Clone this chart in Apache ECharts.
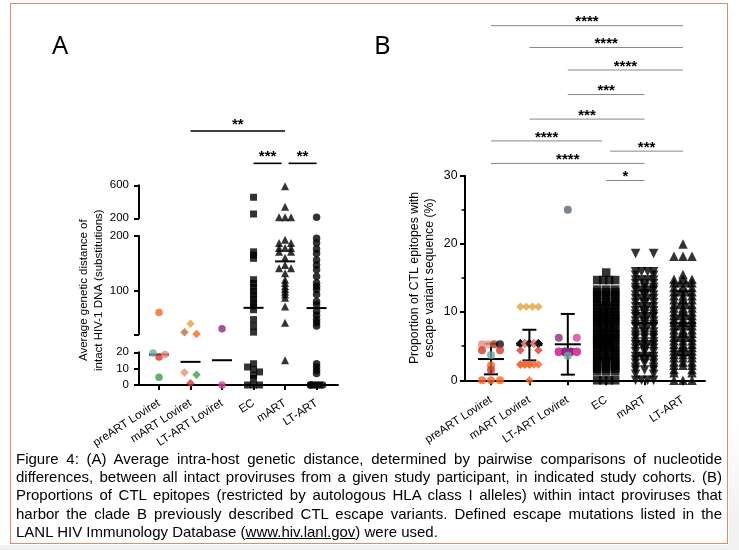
<!DOCTYPE html>
<html>
<head>
<meta charset="utf-8">
<title>Figure 4</title>
<script src="https://cdn.jsdelivr.net/npm/echarts@6.0.0/dist/echarts.min.js"></script>
<style>
  html, body { margin: 0; padding: 0; width: 739px; height: 550px; background: #fff; overflow: hidden; }
  .shade { position: absolute; background: #f2f2f2; }
  #frame { position: absolute; left: 10px; top: 3px; width: 716px; height: 539px; border: 1.5px solid #e3896a; background: #fff; }
  #chart { position: absolute; left: 0; top: 0; width: 739px; height: 550px; }
  #caption { position: absolute; left: 16px; top: 450px; width: 706px; font: 15px 'Liberation Sans', Arial, sans-serif; line-height: 18.2px; color: #000; }
  #caption div { text-align: justify; text-align-last: justify; }
  #caption div.last { text-align-last: left; }
</style>
</head>
<body>
<div class="shade" style="left:729px;top:420px;width:10px;height:130px;background:linear-gradient(#fff,#f2f2f2 75%)"></div>
<div class="shade" style="left:0;top:545px;width:739px;height:5px"></div>
<div id="frame"></div>
<div id="chart"></div>
<div id="caption">
  <div>Figure 4: (A) Average intra-host genetic distance, determined by pairwise comparisons of nucleotide</div>
  <div>differences, between all intact proviruses from a given study participant, in indicated study cohorts. (B)</div>
  <div>Proportions of CTL epitopes (restricted by autologous HLA class I alleles) within intact proviruses that</div>
  <div>harbor the clade B previously described CTL escape variants. Defined escape mutations listed in the</div>
  <div class="last">LANL HIV Immunology Database (<u>www.hiv.lanl.gov</u>) were used.</div>
</div>
<script>
// categories (same for both panels)
var cats = ['preART Loviret', 'mART Loviret', 'LT-ART Loviret', 'EC', 'mART', 'LT-ART'];

// panel A : average genetic distance (substitutions), one value per participant
var distPreLov = [60, 19.5, 17.2, 18.6, 4.7];
var distMartLov = [39.4, 23.6, 20.6, 7.7, 6.3, 1];
var distLtLov = [30.3, 0];
var distEC = [455, 252, 171, 165, 159, 120, 113, 106, 99, 92, 85, 78, 72,
              65, 47, 35, 24, 13, 11, 9.5, 8, 6, 4, 0, 0, 0];
var distMart = [588, 340, 212, 212, 212, 193, 187, 187, 178, 178, 178, 171, 171, 160,
                147, 141, 141, 132, 120, 114, 108, 103, 98, 93, 87, 71, 41, 15.2];
var distLtArt = [212, 196, 187, 176, 168, 156, 147, 138, 126, 114, 108, 102, 93, 80, 74,
                 62, 55, 47, 41, 35, 13, 11, 9, 7, 0, 0, 0, 0, 0, 0];

// panel B : % of CTL epitopes with escape variant sequence
var escPreLov = [5.3, 5.3, 5.3, 5.3, 4.4, 4.4, 3.7, 2.2, 1.5, 0, 0, 0];
var escMartLov = [10.8, 10.8, 10.8, 10.8,
  5.4, 5.4, 5.4, 5.4, 5.4, 5.4, 5.4, 5.4, 5.4, 5.4, 5.4, 5.4, 5.4, 5.4, 5.4,
  5.4, 5.4, 5.4, 5.4, 5.4, 5.4, 5.4, 5.4, 5.4, 5.4, 5.4, 5.4, 5.4, 5.4, 5.4,
  4.4, 4.4, 2.3, 2.3, 2.3, 2.3, 2.3, 2.3, 2.3, 2.3, 0];
var escLtLov = [25, 6.25, 6.25,
  4.17, 4.17, 4.17, 4.17, 4.17, 4.17, 4.17, 4.17, 4.17,
  4.17, 4.17, 4.17, 4.17, 4.17, 4.17, 4.17, 4.17, 4.17, 3.6];
var escEC = [15.8, 14.7, 14.7, 14.7, 14.7,
  13.3, 13.3, 13.3, 12.9, 12.9, 12.9, 12.5, 12.5, 12.5, 12.0, 12.0, 12.0,
  11.5, 11.5, 11.5, 11.1, 11.1, 11.1, 10.5, 10.5, 10.5, 10.5, 10.0, 10.0, 10.0, 10.0,
  9.5, 9.5, 9.5, 9.5, 9.1, 9.1, 9.1, 8.7, 8.7, 8.7, 8.7, 8.3, 8.3, 8.3, 8.3,
  7.7, 7.7, 7.7, 7.7, 7.1, 7.1, 7.1, 7.1, 6.7, 6.7, 6.7, 6.7, 6.3, 6.3, 6.3, 6.3,
  5.9, 5.9, 5.9, 5.9, 5.6, 5.6, 5.6, 5.3, 5.3, 5.3, 5.3, 4.8, 4.8, 4.8, 4.8,
  4.3, 4.3, 4.3, 4.3, 3.8, 3.8, 3.8, 3.3, 3.3, 3.3, 3.3, 2.9, 2.9, 2.9,
  2.5, 2.5, 2.5, 2.1, 2.1, 2.1, 1.7, 1.7, 1.7, 1.3, 1.3, 1.3, 0, 0, 0, 0];
var escMart = [18.6, 18.6,
  15.9, 15.9, 15.9, 15.9, 15.4, 15.4, 14.7, 14.7, 14.7, 14.7, 14.2, 14.2, 14.2,
  13.6, 13.6, 13.6, 13.2, 13.2, 13.2, 13.2, 12.5, 12.5, 12.5, 12.0, 12.0, 12.0, 12.0,
  11.4, 11.4, 11.4, 10.8, 10.8, 10.8, 10.8, 10.2, 10.2, 10.2, 9.7, 9.7, 9.7, 9.3, 9.3, 9.3, 9.3,
  8.7, 8.7, 8.7, 8.2, 8.2, 8.2, 7.8, 7.8, 7.8, 7.8, 7.1, 7.1, 7.1, 6.6, 6.6, 6.6, 6.2, 6.2, 6.2,
  5.6, 5.6, 5.6, 5.2, 5.2, 5.2, 5.2, 4.7, 4.7, 4.7, 4.2, 4.2, 4.2, 3.5, 3.5, 3.5, 3.5,
  3.0, 3.0, 3.0, 2.5, 2.5, 2.5, 1.9, 1.9, 1.5, 1.5, 1.5, 0.9, 0.9, 0, 0, 0, 0];
var escLtArt = [20.0, 18.2, 18.2, 18.2, 15.5,
  14.8, 14.8, 14.8, 14.3, 14.3, 14.3, 14.3, 13.6, 13.6, 13.6, 13.0, 13.0, 13.0, 13.0,
  12.4, 12.4, 12.4, 11.8, 11.8, 11.8, 11.1, 11.1, 11.1, 11.1, 10.6, 10.6, 10.6, 10.0, 10.0, 10.0,
  9.5, 9.5, 9.5, 9.5, 9.0, 9.0, 9.0, 8.5, 8.5, 8.5, 8.0, 8.0, 8.0, 8.0, 7.4, 7.4, 7.4, 6.9, 6.9, 6.9,
  6.3, 6.3, 6.3, 6.3, 5.8, 5.8, 5.8, 5.3, 5.3, 5.3, 4.8, 4.8, 4.8, 4.3, 4.3, 4.3, 4.3, 3.8, 3.8, 3.8,
  3.3, 3.3, 3.3, 2.7, 2.7, 2.7, 2.2, 2.2, 2.2, 1.6, 1.6, 1.1, 1.1, 0, 0, 0];

// significance brackets: [from category, to category, label, height in axis units]
var sigA = [[1, 4, '**', 1258], [3, 4, '***', 866], [4, 5, '**', 866]];
var sigB = [[0, 5, '****', 52.0], [1, 5, '****', 48.8], [2, 5, '****', 45.5],
            [2, 4, '***', 41.9], [1, 4, '***', 38.3], [0, 3, '****', 35.1],
            [3, 5, '***', 33.6], [0, 4, '****', 31.8], [3, 4, '*', 29.3]];

// y axis tick values
var ticksAUpper = [200, 600];
var ticksAMid = [20, 100, 200];
var labelsAMid = [100, 200];
var ticksALow = [0, 10, 20];

// ---- colours of the Loviret participants ----
var ORANGE = '#f4672a', TEAL = '#70a99f', RED = '#d23b2e', SALMON = '#ea8c7c', GREEN = '#3e9b4b',
    GOLD = '#e6a23c', BROWN = '#b5713e', PURPLE = '#8c2a88', MAGENTA = '#d8409b', SLATE = '#5c6773';
function rep(pattern, n) { var r = []; for (var i = 0; i < n; i++) r.push(pattern[i % pattern.length]); return r; }

var FONT = "'Liberation Sans', Arial, sans-serif";
var SEG_A = [
  { min: 200, max: 600, top: 185.3, height: 33, ticks: ticksAUpper, labels: ticksAUpper },
  { min: 20, max: 200, top: 236, height: 98.3, ticks: ticksAMid, labels: labelsAMid },
  { min: 0, max: 20, top: 352.3, height: 32.7, ticks: ticksALow, labels: ticksALow }
];
var GA = { left: 139, width: 199, xmin: -0.635, xmax: 5.68 };
var GB = { left: 465, width: 240, top: 175.7, height: 204.6, xmin: -0.677, xmax: 5.573, ymax: 30 };
var PX_A = GA.width / (GA.xmax - GA.xmin);
var PX_B = GB.width / (GB.xmax - GB.xmin);

function segIndex(v) { return v > 200 ? 0 : (v > 20 ? 1 : 2); }
function yPxA(v) { var s = SEG_A[segIndex(v)]; return s.top + s.height * (s.max - v) / (s.max - s.min); }
function yPxB(v) { return GB.top + GB.height * (GB.ymax - v) / GB.ymax; }

// scatter-dot layout: points within dY px form a row, spread evenly over width w
function swarm(values, yPx, w, dY, maxN) {
  var order = values.map(function (v, i) { return i; })
    .sort(function (a, b) { return values[b] - values[a] || a - b; });
  var rows = [], row = null, lastY = null;
  order.forEach(function (i) {
    var y = yPx(values[i]);
    if (row && Math.abs(y - lastY) < dY) row.push(i); else { row = [i]; rows.push(row); }
    lastY = y;
  });
  var off = [];
  rows.forEach(function (r) {
    r.sort(function (a, b) { return a - b; });
    var n = Math.min(r.length, maxN);
    r.forEach(function (i, j) { off[i] = n > 1 ? ((j % n) / (n - 1) - 0.5) * w : 0; });
  });
  return off;
}
function median(a) {
  var s = a.slice().sort(function (x, y) { return x - y; }), n = s.length;
  return n % 2 ? s[(n - 1) / 2] : (s[n / 2 - 1] + s[n / 2]) / 2;
}
function meanSd(a) {
  var m = a.reduce(function (s, v) { return s + v; }, 0) / a.length;
  var ss = a.reduce(function (s, v) { return s + (v - m) * (v - m); }, 0);
  return [m, Math.sqrt(ss / (a.length - 1))];
}

var groupsA = [
  { values: distPreLov, colors: [ORANGE, TEAL, RED, SALMON, GREEN], symbol: 'circle', size: 7.5 },
  { values: distMartLov, colors: [GOLD, BROWN, ORANGE, SALMON, GREEN, RED], symbol: 'diamond', size: 8.5 },
  { values: distLtLov, colors: [PURPLE, MAGENTA], symbol: 'circle', size: 7.5 },
  { values: distEC, symbol: 'rect', size: 7 },
  { values: distMart, symbol: 'triangle', size: 8 },
  { values: distLtArt, symbol: 'circle', size: 7.5 }
];
var groupsB = [
  { values: escPreLov, colors: [SALMON, '#e59a8b', '#a63d2d', '#111111', RED, RED, TEAL, ORANGE, '#c0392b', ORANGE, ORANGE, ORANGE], symbol: 'circle', size: 8, maxN: 4 },
  { values: escMartLov, colors: rep([GOLD], 4).concat(rep(['#111111', SALMON, '#111111', SALMON, '#111111'], 30), [RED, RED], rep([ORANGE], 9)), symbol: 'diamond', size: 8.5, maxN: 5 },
  { values: escLtLov, colors: [SLATE, PURPLE, MAGENTA].concat(rep([MAGENTA, PURPLE, PURPLE, MAGENTA], 18), [TEAL]), symbol: 'circle', size: 8, maxN: 4 },
  { values: escEC, symbol: 'rect', size: 8.5, maxN: 4 },
  { values: escMart, symbol: 'triangle', rotate: 180, size: 9.5, maxN: 4 },
  { values: escLtArt, symbol: 'triangle', size: 9.5, maxN: 4 }
];

var series = [];

// panel A points, split over the three axis segments
groupsA.forEach(function (g, c) {
  var off = swarm(g.values, yPxA, 12, 2.5, 5);
  var bySeg = [[], [], []];
  g.values.forEach(function (v, i) {
    bySeg[segIndex(v)].push({ value: [c + off[i] / PX_A, v], itemStyle: { color: g.colors ? g.colors[i] : '#000' } });
  });
  bySeg.forEach(function (d, s) {
    if (!d.length) return;
    series.push({ type: 'scatter', xAxisIndex: s, yAxisIndex: s, symbol: g.symbol, symbolSize: g.size,
      data: d, clip: false, silent: true, z: 3 });
  });
});

// panel A medians
var medData = [[], [], []];
groupsA.forEach(function (g, c) { var m = median(g.values); medData[segIndex(m)].push([c, m]); });
medData.forEach(function (d, s) {
  if (!d.length) return;
  series.push({ type: 'custom', xAxisIndex: s, yAxisIndex: s, data: d, clip: false, silent: true, z: 2,
    renderItem: function (params, api) {
      var p = api.coord([api.value(0), api.value(1)]);
      return { type: 'line', shape: { x1: p[0] - 10, y1: p[1], x2: p[0] + 10, y2: p[1] },
        style: { stroke: '#000', lineWidth: 2 } };
    } });
});

// panel B points
groupsB.forEach(function (g, c) {
  var off = swarm(g.values, yPxB, 18, 2.5, g.maxN);
  series.push({ type: 'scatter', xAxisIndex: 3, yAxisIndex: 3, symbol: g.symbol, symbolSize: g.size,
    symbolRotate: g.rotate || 0, clip: false, silent: true, z: 3,
    data: g.values.map(function (v, i) {
      return { value: [c + off[i] / PX_B, v], itemStyle: { color: g.colors ? g.colors[i] : '#000' } };
    }) });
});

// panel B mean +/- SD
series.push({ type: 'custom', xAxisIndex: 3, yAxisIndex: 3, clip: false, silent: true, z: 2,
  data: groupsB.map(function (g, c) { var ms = meanSd(g.values); return [c, ms[0], ms[1]]; }),
  renderItem: function (params, api) {
    var x = api.value(0), m = api.value(1), sd = api.value(2);
    var c = api.coord([x, m]), t = api.coord([x, m + sd]), b = api.coord([x, m - sd]);
    var st = { stroke: '#000', lineWidth: 2 };
    return { type: 'group', children: [
      { type: 'line', shape: { x1: c[0], y1: t[1], x2: c[0], y2: b[1] }, style: st },
      { type: 'line', shape: { x1: c[0] - 7, y1: t[1], x2: c[0] + 7, y2: t[1] }, style: st },
      { type: 'line', shape: { x1: c[0] - 7, y1: b[1], x2: c[0] + 7, y2: b[1] }, style: st },
      { type: 'line', shape: { x1: c[0] - 13, y1: c[1], x2: c[0] + 13, y2: c[1] }, style: st }
    ] };
  } });

// significance brackets
function bracketSeries(sigs, axis, color, width, textDy, inset, tol) {
  return { type: 'custom', xAxisIndex: axis, yAxisIndex: axis, clip: false, silent: true, z: 5,
    data: sigs.map(function (s) { return [s[0], s[1], s[3]]; }),
    renderItem: function (params, api) {
      var s = sigs[params.dataIndex];
      var a = api.coord([s[0], s[3]]), b = api.coord([s[1], s[3]]);
      var l = a[0], r = b[0];
      sigs.forEach(function (o) {
        if (o === s || Math.abs(o[3] - s[3]) > tol) return;
        if (o[1] === s[0]) l += inset;
        if (o[0] === s[1]) r -= inset;
      });
      return { type: 'group', children: [
        { type: 'line', shape: { x1: l, y1: a[1], x2: r, y2: a[1] }, style: { stroke: color, lineWidth: width } },
        { type: 'text', style: { text: s[2], x: (l + r) / 2, y: a[1] - textDy, align: 'center', verticalAlign: 'middle',
          font: 'bold 15px ' + FONT, fill: '#000' } }
      ] };
    } };
}
series.push(bracketSeries(sigA, 0, '#000', 1.6, 6, 3.5, 100));
series.push(bracketSeries(sigB, 3, '#888', 1, 3.4, 4, 2));

var axisLine = { show: true, onZero: false, lineStyle: { color: '#000', width: 2 } };
var tickStyle = { color: '#000', width: 2 };
var catTicks = cats.map(function (c, i) { return i; });

function xAxisCfg(grid, min, max, visible, margin) {
  return { gridIndex: grid, type: 'value', min: min, max: max, show: visible,
    axisLine: axisLine,
    axisTick: { show: true, customValues: catTicks, length: 5, lineStyle: tickStyle },
    axisLabel: { show: true, customValues: catTicks, formatter: function (v) { return cats[Math.round(v)]; },
      rotate: 33, margin: margin, fontSize: 11.5, color: '#000', fontFamily: FONT, hideOverlap: false },
    splitLine: { show: false } };
}

var xAxes = [0, 1, 2].map(function (i) { return xAxisCfg(i, GA.xmin, GA.xmax, i === 2, 17); });
xAxes.push(xAxisCfg(3, GB.xmin, GB.xmax, true, 18.5));

var yAxes = SEG_A.map(function (s, i) {
  return { gridIndex: i, type: 'value', min: s.min, max: s.max,
    axisLine: axisLine,
    axisTick: { show: true, customValues: s.ticks, length: 5, lineStyle: tickStyle },
    axisLabel: { show: true, customValues: s.labels, margin: 10, fontSize: 11.5, color: '#000', fontFamily: FONT },
    splitLine: { show: false },
    name: i === 1 ? 'Average genetic distance of\nintact HIV-1 DNA (substitutions)' : '',
    nameLocation: 'middle', nameGap: 33, nameMoveOverlap: false,
    nameTextStyle: { fontSize: 11.5, lineHeight: 15, color: '#000', fontFamily: FONT, padding: [0, 10, 0, 0] } };
});
yAxes.push({ gridIndex: 3, type: 'value', min: 0, max: GB.ymax, interval: 10,
  axisLine: axisLine,
  axisTick: { show: true, length: 5, lineStyle: tickStyle },
  minorTick: { show: true, splitNumber: 2, length: 3.5, lineStyle: { color: '#000', width: 1.5 } },
  axisLabel: { show: true, margin: 7.5, fontSize: 12.3, color: '#000', fontFamily: FONT },
  splitLine: { show: false }, minorSplitLine: { show: false },
  name: 'Proportion of CTL epitopes with\nescape variant sequence (%)',
  nameLocation: 'middle', nameGap: 27.5, nameMoveOverlap: false,
  nameTextStyle: { fontSize: 12.3, lineHeight: 15, color: '#000', fontFamily: FONT } });

var grids = SEG_A.map(function (s) {
  return { left: GA.left, width: GA.width, top: s.top, height: s.height, containLabel: false, outerBoundsMode: 'none' };
});
grids.push({ left: GB.left, width: GB.width, top: GB.top, height: GB.height, containLabel: false, outerBoundsMode: 'none' });

var chart = echarts.init(document.getElementById('chart'), null, { renderer: 'canvas' });
chart.setOption({
  animation: false,
  backgroundColor: 'transparent',
  textStyle: { fontFamily: FONT },
  title: [
    { text: 'A', left: 52, top: 33.5, padding: 0, textStyle: { fontFamily: 'Noto Sans', fontSize: 25.5, lineHeight: 26, fontWeight: 'normal', color: '#000' } },
    { text: 'B', left: 374, top: 33.5, padding: 0, textStyle: { fontFamily: 'Noto Sans', fontSize: 25.5, lineHeight: 26, fontWeight: 'normal', color: '#000' } }
  ],
  grid: grids,
  xAxis: xAxes,
  yAxis: yAxes,
  series: series
});
</script>
</body>
</html>
